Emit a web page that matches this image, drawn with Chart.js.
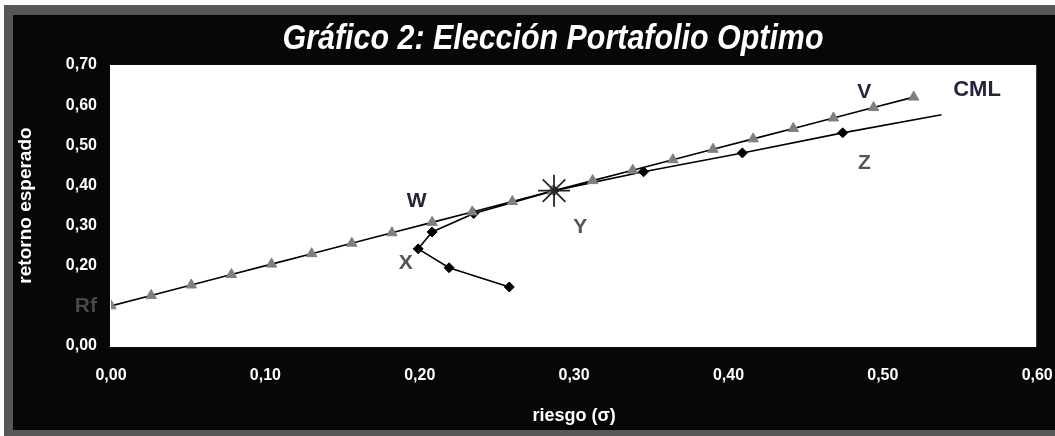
<!DOCTYPE html>
<html>
<head>
<meta charset="utf-8">
<script src="https://cdn.jsdelivr.net/npm/chart.js@4.4.1/dist/chart.umd.min.js"></script>
<style>
  html, body { margin: 0; padding: 0; width: 1055px; height: 436px; overflow: hidden; background: #ffffff; }
  #frame { position: absolute; left: 4px; top: 5px; width: 1051px; height: 431px; background: #575757; }
  #panel { position: absolute; left: 13px; top: 15px; width: 1042px; height: 415px; background: #070707; }
  #wrap { position: absolute; left: 0; top: 0; width: 1055px; height: 436px; }
</style>
</head>
<body>
<div id="frame"></div>
<div id="panel"></div>
<div id="wrap"><canvas id="chart" width="1055" height="436"></canvas></div>
<script>
// Capital market line: risk-free rate plus the triangles along the line
const cmlRisk   = [0.000, 0.026, 0.052, 0.078, 0.104, 0.130, 0.156, 0.182, 0.208, 0.234, 0.260,
                   0.286, 0.312, 0.338, 0.364, 0.390, 0.416, 0.442, 0.468, 0.494, 0.520];
const cmlReturn = [0.100, 0.126, 0.152, 0.178, 0.204, 0.230, 0.256, 0.282, 0.308, 0.334, 0.360,
                   0.386, 0.412, 0.438, 0.464, 0.490, 0.516, 0.542, 0.568, 0.594, 0.620];

// Efficient frontier of risky portfolios (last point has no marker)
const frontierRisk   = [0.258, 0.219, 0.199, 0.208, 0.235, 0.287, 0.345, 0.409, 0.474, 0.538];
const frontierReturn = [0.147, 0.195, 0.242, 0.284, 0.330, 0.387, 0.434, 0.481, 0.531, 0.576];

// Tangency (optimal) portfolio
const tangencyRisk   = [0.287];
const tangencyReturn = [0.387];

// Point names written on the chart, anchored in data units
const markText   = ['W', 'X', 'Y', 'Z', 'V', 'CML'];
const markRisk   = [0.198, 0.191, 0.304, 0.488, 0.488, 0.561];
const markReturn = [0.360, 0.207, 0.297, 0.456, 0.632, 0.638];

// Axis ticks; the risk-free rate is labelled "Rf" on the return axis
const riskTicks   = [0, 0.1, 0.2, 0.3, 0.4, 0.5, 0.6];
const returnTicks = [0, 0.1, 0.2, 0.3, 0.4, 0.5, 0.6, 0.7];
const riskFreeRate = 0.10;
const riskFreeLabel = 'Rf';

const TITLE = 'Gráfico 2: Elección Portafolio Optimo';
const X_TITLE = 'riesgo (σ)';
const Y_TITLE = 'retorno esperado';

const SANS = "'Liberation Sans', Arial, sans-serif";
const markColor = ['#24243c', '#555555', '#555555', '#555555', '#24243c', '#24243c'];

const toPoints = (xs, ys) => xs.map((v, i) => ({ x: v, y: ys[i] }));
const fmt = v => Number(v).toFixed(2).replace('.', ',');
const isRf = v => Math.abs(v - riskFreeRate) < 1e-9;

const plotBackground = {
  id: 'plotBackground',
  beforeDraw(chart) {
    const { ctx, chartArea: a } = chart;
    ctx.save();
    ctx.fillStyle = '#ffffff';
    ctx.fillRect(a.left - 1, a.top, a.right - a.left, a.bottom - a.top + 1);
    ctx.restore();
  }
};

const chartText = {
  id: 'chartText',
  afterDatasetsDraw(chart) {
    const { ctx, scales: { x, y } } = chart;
    ctx.save();
    ctx.textAlign = 'center';
    ctx.textBaseline = 'middle';
    markText.forEach((t, i) => {
      ctx.font = (t === 'CML' ? 'bold 22px ' : 'bold 21px ') + SANS;
      ctx.fillStyle = markColor[i];
      ctx.fillText(t, x.getPixelForValue(markRisk[i]), y.getPixelForValue(markReturn[i]));
    });
    // condensed italic heading
    ctx.font = 'italic bold 35px ' + SANS;
    ctx.fillStyle = '#ffffff';
    const w = ctx.measureText(TITLE).width;
    ctx.translate(553, 39);
    ctx.scale(541 / w, 1);
    ctx.fillText(TITLE, 0, 0);
    ctx.restore();
  }
};

new Chart(document.getElementById('chart'), {
  type: 'scatter',
  data: {
    datasets: [
      {
        label: 'Y',
        data: toPoints(tangencyRisk, tangencyReturn),
        pointStyle: 'star',
        pointRadius: 16,
        borderColor: '#262626',
        borderWidth: 1.8,
        showLine: false
      },
      {
        label: 'CML',
        data: toPoints(cmlRisk, cmlReturn),
        showLine: true,
        borderColor: '#000000',
        borderWidth: 1.6,
        pointStyle: 'triangle',
        pointRadius: 6,
        pointBackgroundColor: '#7f7f7f',
        pointBorderColor: '#7f7f7f',
        pointBorderWidth: 1
      },
      {
        label: 'Frontera',
        data: toPoints(frontierRisk, frontierReturn),
        showLine: true,
        borderColor: '#000000',
        borderWidth: 1.6,
        pointStyle: 'rectRot',
        pointRadius: frontierRisk.map((_, i) => (i === frontierRisk.length - 1 ? 0 : 5)),
        pointBackgroundColor: '#000000',
        pointBorderColor: '#000000',
        pointBorderWidth: 1
      }
    ]
  },
  options: {
    responsive: false,
    animation: false,
    layout: { padding: { left: 0, right: 12, top: 65, bottom: 0 } },
    plugins: {
      legend: { display: false },
      tooltip: { enabled: false },
      title: { display: false }
    },
    scales: {
      x: {
        type: 'linear',
        min: riskTicks[0],
        max: riskTicks[riskTicks.length - 1],
        border: { display: false },
        grid: { display: false, drawTicks: false },
        afterBuildTicks(s) { s.ticks = riskTicks.map(v => ({ value: v })); },
        afterFit(s) { s.height = 90; s.paddingLeft = 0; s.paddingRight = 0; },
        ticks: {
          color: '#ffffff',
          font: { family: SANS, size: 16, weight: 'bold' },
          padding: 20,
          maxRotation: 0,
          autoSkip: false,
          callback: v => fmt(v)
        },
        title: {
          display: true,
          text: X_TITLE,
          color: '#ffffff',
          font: { family: SANS, size: 18, weight: 'bold' },
          padding: { top: 0, bottom: 9 }
        }
      },
      y: {
        type: 'linear',
        min: returnTicks[0],
        max: returnTicks[returnTicks.length - 1],
        border: { display: false },
        grid: { display: false, drawTicks: false },
        afterBuildTicks(s) { s.ticks = returnTicks.map(v => ({ value: v })); },
        afterFit(s) { s.width = 111; s.paddingTop = 0; s.paddingBottom = 0; },
        ticks: {
          color: c => (c.tick && isRf(c.tick.value) ? '#474747' : '#ffffff'),
          font: c => ({ family: SANS, size: (c.tick && isRf(c.tick.value)) ? 21 : 16, weight: 'bold' }),
          padding: 14,
          autoSkip: false,
          callback: v => (isRf(v) ? riskFreeLabel : fmt(v))
        },
        title: {
          display: true,
          text: Y_TITLE,
          color: '#ffffff',
          font: { family: SANS, size: 19, weight: 'bold' },
          padding: { top: 14, bottom: 0 }
        }
      }
    }
  },
  plugins: [plotBackground, chartText]
});
</script>
</body>
</html>
